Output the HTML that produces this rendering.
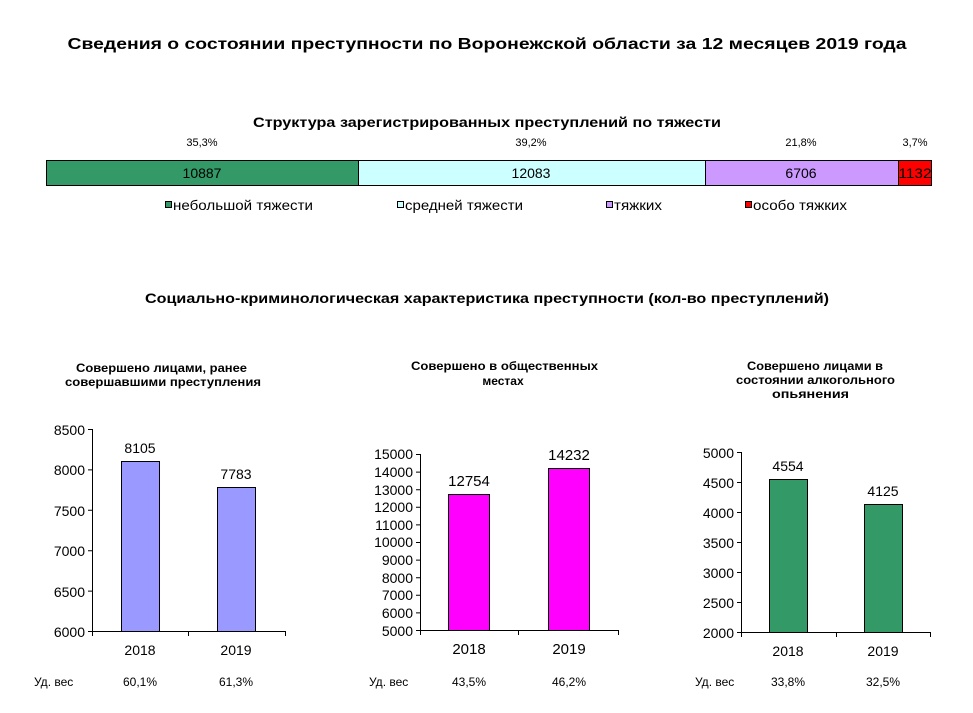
<!DOCTYPE html>
<html><head><meta charset="utf-8"><style>
html,body{margin:0;padding:0;background:#fff;}
svg{display:block;font-family:"Liberation Sans",sans-serif;}
</style></head><body>
<svg width="973" height="713" viewBox="0 0 973 713" xmlns="http://www.w3.org/2000/svg">
<rect width="973" height="713" fill="#fff"/>
<text x="487" y="49" text-anchor="middle" font-size="16" font-weight="bold" textLength="839" lengthAdjust="spacingAndGlyphs">Сведения о состоянии преступности по Воронежской области  за 12 месяцев 2019 года</text>
<text x="487" y="127" text-anchor="middle" font-size="14" font-weight="bold" textLength="468" lengthAdjust="spacingAndGlyphs">Структура зарегистрированных преступлений по тяжести</text>
<g font-size="11" text-anchor="middle">
<text x="202" y="146">35,3%</text><text x="531" y="146">39,2%</text><text x="801" y="146">21,8%</text><text x="915" y="146">3,7%</text>
</g>
<g stroke="#000" stroke-width="1">
<rect x="46.5" y="160.5" width="312" height="25" fill="#339966"/>
<rect x="358.5" y="160.5" width="347" height="25" fill="#ccffff"/>
<rect x="705.5" y="160.5" width="193" height="25" fill="#cc99ff"/>
<rect x="898.5" y="160.5" width="33" height="25" fill="#ff0000"/>
</g>
<g font-size="14" text-anchor="middle">
<text x="202" y="178">10887</text><text x="531" y="178">12083</text><text x="801" y="178">6706</text><text x="915" y="178" textLength="33" lengthAdjust="spacingAndGlyphs">1132</text>
</g>
<g font-size="14" stroke-width="1" lengthAdjust="spacingAndGlyphs">
<rect x="165.5" y="201.5" width="6" height="6" fill="#339966" stroke="#000"/><text x="173" y="210" textLength="140" lengthAdjust="spacingAndGlyphs">небольшой тяжести</text>
<rect x="397.5" y="201.5" width="6" height="6" fill="#ccffff" stroke="#000"/><text x="405" y="210" textLength="118" lengthAdjust="spacingAndGlyphs">средней тяжести</text>
<rect x="606.5" y="201.5" width="6" height="6" fill="#cc99ff" stroke="#000"/><text x="614" y="210" textLength="48" lengthAdjust="spacingAndGlyphs">тяжких</text>
<rect x="745.5" y="201.5" width="6" height="6" fill="#ff0000" stroke="#000"/><text x="753" y="210" textLength="94" lengthAdjust="spacingAndGlyphs">особо тяжких</text>
</g>
<text x="487" y="303" text-anchor="middle" font-size="14" font-weight="bold" textLength="684" lengthAdjust="spacingAndGlyphs">Социально-криминологическая характеристика преступности (кол-во преступлений)</text>
<g font-size="12" font-weight="bold">
<text x="76" y="372" textLength="171" lengthAdjust="spacingAndGlyphs">Совершено лицами, ранее</text>
<text x="65" y="386" textLength="196" lengthAdjust="spacingAndGlyphs">совершавшими преступления</text>
<text x="411" y="370" textLength="187" lengthAdjust="spacingAndGlyphs">Совершено в общественных</text>
<text x="503" y="385" text-anchor="middle">местах</text>
<text x="747" y="370" textLength="136" lengthAdjust="spacingAndGlyphs">Совершено лицами в</text>
<text x="736" y="384" textLength="159" lengthAdjust="spacingAndGlyphs">состоянии алкогольного</text>
<text x="772" y="398" textLength="77" lengthAdjust="spacingAndGlyphs">опьянения</text>
</g>

<!-- Chart 1 -->
<g stroke="#000" stroke-width="1" fill="none">
<path d="M92.5 429V631.5H285.5"/>
<path d="M88 429.5H92M88 469.9H92M88 510.3H92M88 550.7H92M88 591.1H92M88 631.5H92"/>
<path d="M188.5 631V636M285.5 631V636M92.5 631V636"/>
<rect x="121.5" y="461.5" width="38" height="170" fill="#9999ff"/>
<rect x="217.5" y="487.5" width="38" height="144" fill="#9999ff"/>
</g>
<g font-size="14" text-anchor="end">
<text x="85" y="435">8500</text><text x="85" y="475">8000</text><text x="85" y="516">7500</text><text x="85" y="556">7000</text><text x="85" y="597">6500</text><text x="85" y="637">6000</text>
</g>
<g font-size="14" text-anchor="middle">
<text x="140" y="453">8105</text><text x="236" y="479">7783</text>
<text x="140" y="655">2018</text><text x="236" y="655">2019</text>
</g>
<g font-size="12">
<text x="34" y="686">Уд. вес</text><text x="140" y="686" text-anchor="middle">60,1%</text><text x="236" y="686" text-anchor="middle">61,3%</text>
</g>

<!-- Chart 2 -->
<g stroke="#000" stroke-width="1" fill="none">
<path d="M420.5 454V630.5H618.5"/>
<path d="M416 454.5H420M416 472.1H420M416 489.7H420M416 507.3H420M416 524.9H420M416 542.5H420M416 560.1H420M416 577.7H420M416 595.3H420M416 612.9H420M416 630.5H420"/>
<path d="M420.5 630V635M518.5 630V635M618.5 630V635"/>
<rect x="448.5" y="494.5" width="41" height="136" fill="#ff00ff"/>
<rect x="548.5" y="468.5" width="41" height="162" fill="#ff00ff"/>
</g>
<g font-size="14" text-anchor="end">
<text x="413" y="459">15000</text><text x="413" y="477">14000</text><text x="413" y="495">13000</text><text x="413" y="512">12000</text><text x="413" y="530">11000</text><text x="413" y="547">10000</text><text x="413" y="565">9000</text><text x="413" y="583">8000</text><text x="413" y="600">7000</text><text x="413" y="618">6000</text><text x="413" y="636">5000</text>
</g>
<g font-size="15" text-anchor="middle">
<text x="469" y="486">12754</text><text x="569" y="460">14232</text>
<text x="469" y="654">2018</text><text x="569" y="654">2019</text>
</g>
<g font-size="12">
<text x="369" y="686">Уд. вес</text><text x="469" y="686" text-anchor="middle">43,5%</text><text x="569" y="686" text-anchor="middle">46,2%</text>
</g>

<!-- Chart 3 -->
<g stroke="#000" stroke-width="1" fill="none">
<path d="M741.5 452V632.5H930.5"/>
<path d="M737 452.5H741M737 482.5H741M737 512.5H741M737 542.5H741M737 572.5H741M737 602.5H741M737 632.5H741"/>
<path d="M741.5 632V637M836.5 632V637M930.5 632V637"/>
<rect x="769.5" y="479.5" width="38" height="153" fill="#339966"/>
<rect x="864.5" y="504.5" width="38" height="128" fill="#339966"/>
</g>
<g font-size="14" text-anchor="end">
<text x="734" y="458">5000</text><text x="734" y="488">4500</text><text x="734" y="518">4000</text><text x="734" y="548">3500</text><text x="734" y="578">3000</text><text x="734" y="608">2500</text><text x="734" y="638">2000</text>
</g>
<g font-size="14" text-anchor="middle">
<text x="788" y="471">4554</text><text x="883" y="496">4125</text>
<text x="788" y="656">2018</text><text x="883" y="656">2019</text>
</g>
<g font-size="12">
<text x="695" y="686">Уд. вес</text><text x="788" y="686" text-anchor="middle">33,8%</text><text x="883" y="686" text-anchor="middle">32,5%</text>
</g>
</svg>
</body></html>
